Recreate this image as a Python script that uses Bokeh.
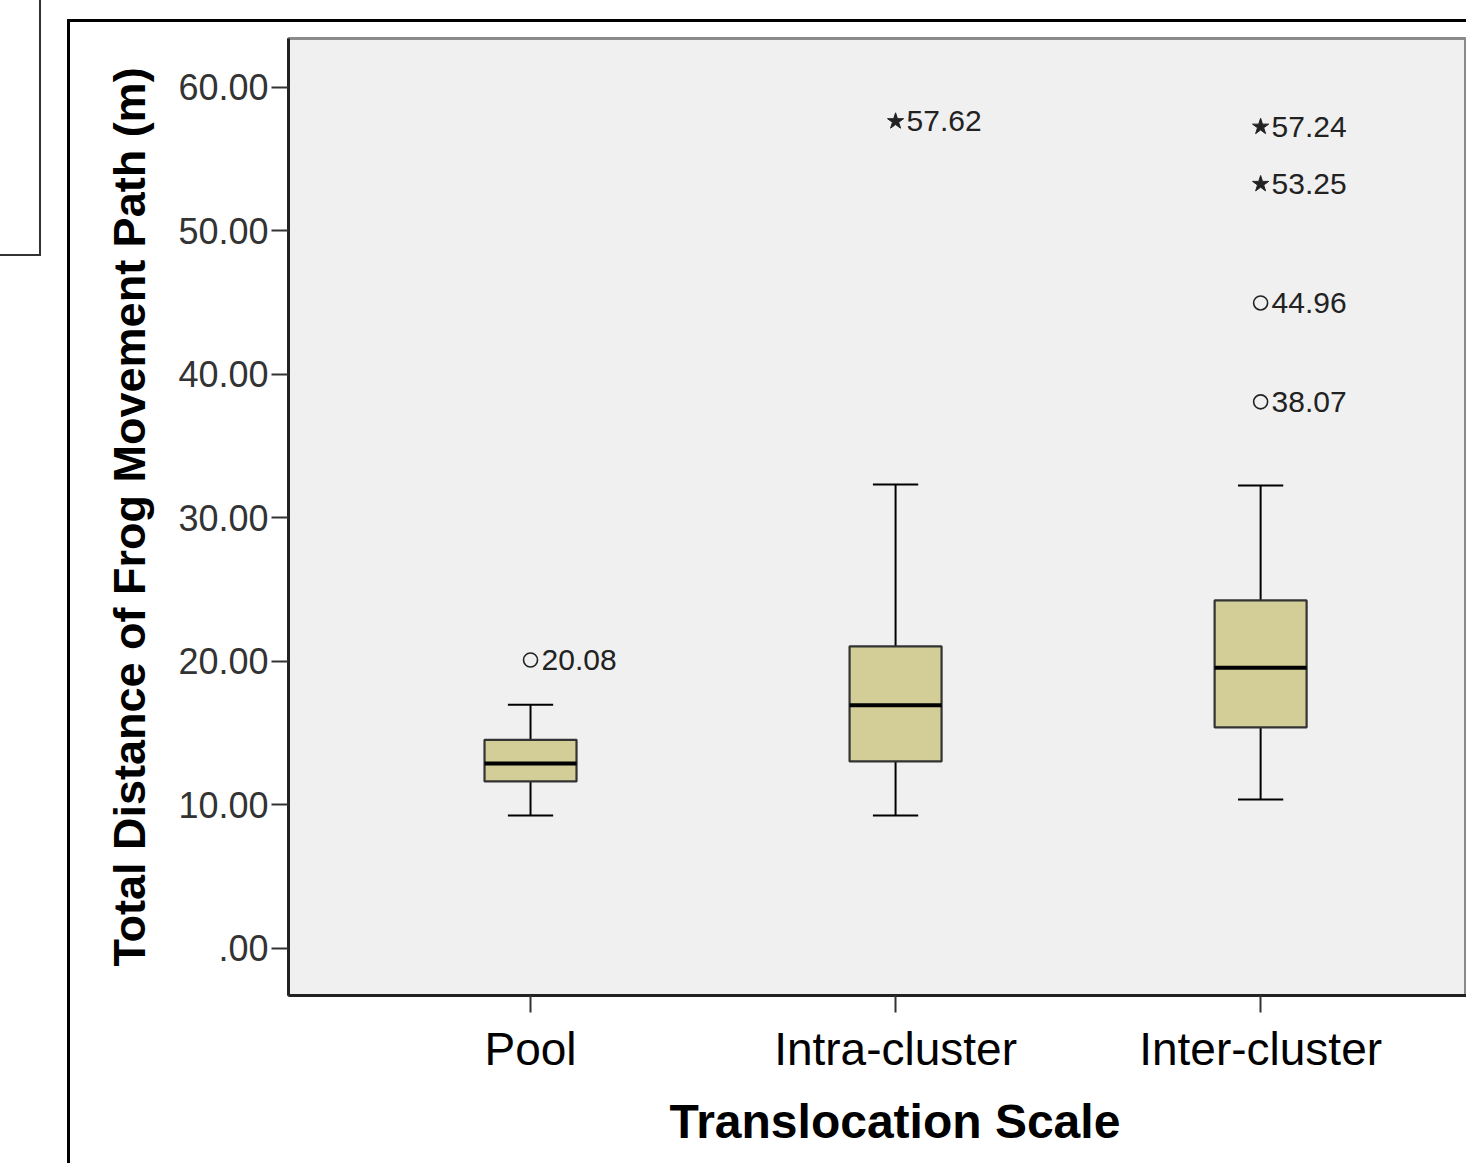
from bokeh.plotting import figure
from bokeh.models import ColumnDataSource, FixedTicker, CustomJSTickFormatter, InlineStyleSheet, Title
from bokeh.core.properties import value
from bokeh.embed import file_html
from bokeh.resources import INLINE

# ---- data ----
categories = ["Pool", "Intra-cluster", "Inter-cluster"]
positions = [0, 1, 2]
whisker_low = [9.25, 9.25, 10.36]
q1 = [11.62, 13.01, 15.38]
median = [12.87, 16.92, 19.54]
q3 = [14.52, 21.03, 24.23]
whisker_high = [16.96, 32.31, 32.24]

outlier_cat = [0, 2, 2]
outlier_val = [20.08, 44.96, 38.07]
extreme_cat = [1, 2, 2]
extreme_val = [57.62, 57.24, 53.25]

y_ticks = [0, 10, 20, 30, 40, 50, 60]
x_title = "Translocation Scale"
y_title = "Total Distance of Frog Movement Path (m)"

BOX_HALF = 0.126
CAP_HALF = 0.062

src = ColumnDataSource(dict(
    x=positions, left=[p - BOX_HALF for p in positions], right=[p + BOX_HALF for p in positions],
    cl=[p - CAP_HALF for p in positions], cr=[p + CAP_HALF for p in positions],
    lo=whisker_low, q1=q1, med=median, q3=q3, hi=whisker_high,
))
out_src = ColumnDataSource(dict(x=outlier_cat, y=outlier_val, lab=["%.2f" % v for v in outlier_val]))
ext_src = ColumnDataSource(dict(x=extreme_cat, y=extreme_val, lab=["%.2f" % v for v in extreme_val]))

css = InlineStyleSheet(css="""
:host { position: relative; }
:host::after {
  content: ""; position: absolute; left: 67px; top: 19px; right: 0px; bottom: 0px;
  border-left: 3px solid #000; border-top: 3px solid #000; pointer-events: none; box-sizing: border-box;
}
:host::before {
  content: ""; position: absolute; left: 0px; top: 0px; width: 41px; height: 256px;
  border-right: 2px solid #333; border-bottom: 2px solid #333; pointer-events: none; box-sizing: border-box;
  z-index: 5;
}
""")

W, H = 1466, 1163
p = figure(width=W, height=H, output_backend="svg", toolbar_location=None,
           x_range=(-0.663, 2.564), y_range=(-3.30, 63.39),
           min_border_left=288, min_border_right=0, min_border_top=38, min_border_bottom=168,
           stylesheets=[css])

p.background_fill_color = "#f0f0f0"
p.border_fill_color = "white"
p.grid.visible = False
p.outline_line_color = "#8a8a8a"
p.outline_line_width = 3

FONT = "Liberation Sans"

# whiskers
p.segment(x0="x", y0="q3", x1="x", y1="hi", source=src, line_color="black", line_width=2)
p.segment(x0="x", y0="lo", x1="x", y1="q1", source=src, line_color="black", line_width=2)
p.segment(x0="cl", y0="hi", x1="cr", y1="hi", source=src, line_color="black", line_width=2)
p.segment(x0="cl", y0="lo", x1="cr", y1="lo", source=src, line_color="black", line_width=2)
# boxes
p.quad(left="left", right="right", bottom="q1", top="q3", source=src,
       fill_color="#d3ce97", line_color="#333333", line_width=2.2)
p.segment(x0="left", y0="med", x1="right", y1="med", source=src, line_color="black", line_width=4)

# outliers
p.scatter(x="x", y="y", source=out_src, marker="circle", size=14,
          fill_color=None, line_color="#222222", line_width=1.6)
p.scatter(x="x", y="y", source=ext_src, marker="star", size=17,
          fill_color="#222222", line_color="#222222", line_width=1)
for s in (out_src, ext_src):
    p.text(x="x", y="y", text="lab", source=s, x_offset=11, text_align="left",
           text_baseline="middle", text_font=value(FONT), text_font_size="30px",
           text_color="#222222")

# axes
p.yaxis.ticker = FixedTicker(ticks=y_ticks)
p.yaxis.formatter = CustomJSTickFormatter(code="""
    if (tick == 0) { return '.00'; }
    return tick.toFixed(2);
""")
p.yaxis.axis_label = y_title
p.xaxis.ticker = FixedTicker(ticks=positions)
p.xaxis.major_label_overrides = {i: c for i, c in zip(positions, categories)}

for ax in (p.xaxis[0], p.yaxis[0]):
    ax.axis_line_color = "#222222"
    ax.axis_line_width = 3
    ax.major_tick_line_color = "#333333"
    ax.major_tick_line_width = 2
    ax.major_tick_in = 0
    ax.minor_tick_line_color = None
    ax.major_label_text_font = FONT
    ax.axis_label_text_font = FONT
    ax.axis_label_text_font_style = "bold"
    ax.axis_label_text_color = "black"

p.yaxis.major_tick_out = 17
p.yaxis.major_label_text_font_size = "36px"
p.yaxis.major_label_text_color = "#333333"
p.yaxis.major_label_standoff = 3
p.yaxis.axis_label_text_font_size = "45px"
p.yaxis.axis_label_standoff = 20

p.xaxis.major_tick_out = 17
p.xaxis.major_label_text_font_size = "46px"
p.xaxis.major_label_text_color = "black"
p.xaxis.major_label_standoff = 10

# x-axis title: the reference's plot area runs past the page edge, so place it under the middle category
p.add_layout(Title(text=x_title, align="left", offset=381, standoff=30,
                   text_font=FONT, text_font_style="bold", text_font_size="48px",
                   text_color="black"), "below")

open("out.html", "w").write(file_html(p, INLINE))
